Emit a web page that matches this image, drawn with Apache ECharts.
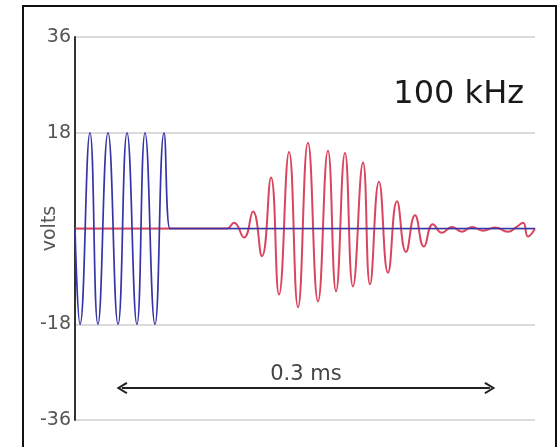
<!DOCTYPE html>
<html>
<head>
<meta charset="utf-8">
<script src="https://cdn.jsdelivr.net/npm/echarts@6.0.0/dist/echarts.min.js"></script>
<style>
html,body{margin:0;padding:0;background:#fff;overflow:hidden}
#chart{width:560px;height:447px}
#frame{position:absolute;left:22px;top:5px;width:531px;height:470px;border:2px solid #111;pointer-events:none}
</style>
</head>
<body>
<div id="chart"></div>
<div id="frame"></div>
<script>
// time in microseconds, voltage in volts
var blueT = [0, 4.1, 12.2, 18.7, 26.9, 35.1, 42.4, 50.5, 57.1, 65.2, 72.6, 77.4, 80, 375];
var blueV = [0, -18, 18, -18, 18, -18, 18, -18, 18, -18, 18, 0, 0, 0];

var redT = [0, 120, 124, 129.6, 137.8, 145.1, 152.4, 159.8, 166.3, 174.5, 181.8, 189.9, 198.1, 206.2,
    212.8, 220.1, 226.6, 234.8, 240.5, 247.8, 255.2, 262.5, 269.8, 277.2, 284.5, 291.8, 299.2, 307.3,
    315.5, 323.6, 332.6, 342.4, 353.0, 359.5, 365.2, 369.3, 375];
var redV = [0, 0, 0, 1.1, -1.7, 3.2, -5.2, 9.6, -12.4, 14.4, -14.8, 16.1, -13.7, 14.6,
    -11.8, 14.2, -10.9, 12.4, -10.5, 8.8, -8.3, 5.1, -4.4, 2.5, -3.4, 0.8, -0.8, 0.3,
    -0.6, 0.3, -0.4, 0.2, -0.6, 0.2, 1.1, -1.5, 0];

var yTicks = [-36, -18, 0, 18, 36];
var spanStart = 38.3, spanEnd = 338.2, spanLevel = -30;   // the 0.3 ms arrow
var spanLabel = '0.3 ms';
var freqLabel = '100 kHz';

function pairs(t, v) {
    var out = [];
    for (var i = 0; i < t.length; i++) out.push([t[i], v[i]]);
    return out;
}

var font = 'DejaVu Sans';
var chevron = 'path://M6,0L12,10L10.4,11.2L6,3.8L1.6,11.2L0,10Z';
var myChart = echarts.init(document.getElementById('chart'));

var option = {
    animation: false,
    backgroundColor: '#fff',
    title: {
        text: freqLabel,
        right: 31,
        top: 74,
        textStyle: {color: '#1a1a1a', fontSize: 32, fontWeight: 'normal', fontFamily: font}
    },
    grid: {left: 75, right: 25, top: 37, bottom: 27},
    xAxis: {
        type: 'value',
        min: 0,
        max: 375,
        show: false
    },
    yAxis: {
        type: 'value',
        min: yTicks[0],
        max: yTicks[yTicks.length - 1],
        interval: 18,
        name: 'volts',
        nameLocation: 'middle',
        nameGap: 15,
        nameMoveOverlap: false,
        nameTextStyle: {color: '#555', fontSize: 19, fontFamily: font},
        axisLine: {show: true, lineStyle: {color: '#333', width: 2}},
        axisTick: {show: false},
        axisLabel: {
            color: '#555',
            fontSize: 19,
            fontFamily: font,
            margin: 4,
            formatter: function (v) { return v === 0 ? '' : v; }
        },
        splitLine: {lineStyle: {color: '#cfcfcf', width: 1.5}}
    },
    series: [
        {
            name: 'received',
            type: 'line',
            data: pairs(redT, redV),
            smooth: 0.5,
            showSymbol: false,
            lineStyle: {color: '#d9455f', width: 2},
            z: 2
        },
        {
            name: 'transmitted',
            type: 'line',
            data: pairs(blueT, blueV),
            smooth: 0.5,
            showSymbol: false,
            lineStyle: {color: '#3535a8', width: 1.7},
            z: 3
        },
        {
            name: 'span',
            type: 'line',
            data: [],
            markLine: {
                silent: true,
                symbol: [chevron, chevron],
                symbolSize: [12, 11],
                lineStyle: {color: '#222', width: 2, type: 'solid'},
                label: {
                    show: true,
                    position: 'middle',
                    distance: 3,
                    formatter: spanLabel,
                    color: '#444',
                    fontSize: 21,
                    fontFamily: font
                },
                data: [[{coord: [spanStart, spanLevel]}, {coord: [spanEnd, spanLevel]}]]
            }
        }
    ]
};

myChart.setOption(option);
</script>
</body>
</html>
